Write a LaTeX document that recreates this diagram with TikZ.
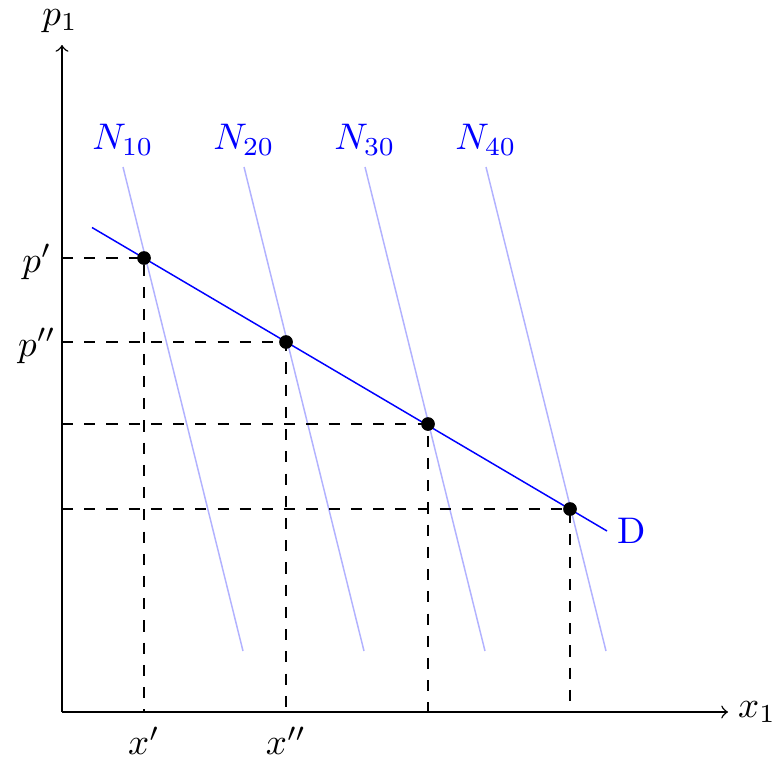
\documentclass[tikz,border=0pt]{standalone}
\begin{document}
\begin{tikzpicture}[x=0.27pt,y=-0.27pt,
  axis/.style={->,line width=0.4pt},
  guide/.style={dashed,line width=0.4pt},
  nline/.style={blue!30,line width=0.4pt},
  dline/.style={blue,line width=0.4pt},
  dot/.style={circle,fill=black,inner sep=0pt,minimum size=3.7pt},
  lbl/.style={inner sep=0pt}]
\useasboundingbox (0,0) rectangle (777,757);
% axes
\coordinate (O) at (62,712);
\coordinate (xend) at (728,712);
\coordinate (yend) at (62,45);
\draw[axis] (O) -- (xend);
\draw[axis] (O) -- (yend);
\node[lbl] (xlab) at (757,712) {$x_1$};
\node[lbl] (ylab) at (60,21) {$p_1$};
% N lines
\foreach \i/\xt/\xb/\lab in {1/123/243/10,2/244/364/20,3/365/485/30,4/486/606/40}{
  \coordinate (Nt\i) at (\xt,167);
  \coordinate (Nb\i) at (\xb,651);
  \draw[nline] (Nt\i) -- (Nb\i);
  \node[lbl,text=blue] (NL\i) at (\xt,140) {$N_{\lab}$};
}
% demand line
\coordinate (Ds) at (92,227.5);
\coordinate (De) at (607,531);
\draw[dline] (Ds) -- (De);
\node[lbl,text=blue] (Dlab) at (632,531) {D};
% points
\coordinate (A) at (144,258);
\coordinate (B) at (286,342);
\coordinate (C) at (428,424);
\coordinate (E) at (570,509);
\foreach \p in {A,B,C,E}{
  \draw[guide] (O |- \p) -- (\p) -- (\p |- O);
}
\foreach \p in {A,B,C,E}{
  \node[dot] (d\p) at (\p) {};
}
\node[lbl] (xp) at (144,741) {$x'$};
\node[lbl] (xpp) at (286,741) {$x''$};
\node[lbl] (pp) at (37,262) {$p'$};
\node[lbl] (ppp) at (37,346) {$p''$};
\end{tikzpicture}
\end{document}
